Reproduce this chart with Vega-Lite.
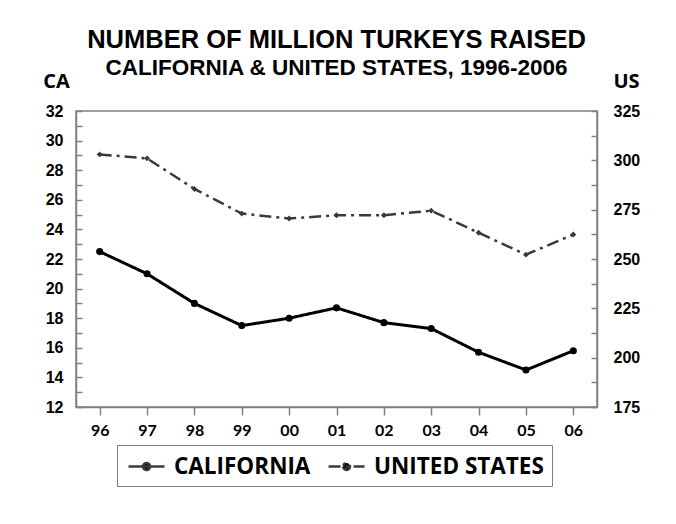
{
  "$schema": "https://vega.github.io/schema/vega-lite/v6.json",
  "autosize": {"type": "none"},
  "width": 521,
  "height": 296,
  "padding": {"left": 76, "top": 111, "right": 79, "bottom": 117},
  "background": "white",
  "title": {
    "text": "NUMBER OF MILLION TURKEYS RAISED",
    "subtitle": "CALIFORNIA & UNITED STATES, 1996-2006",
    "anchor": "middle",
    "frame": "group",
    "font": "Liberation Sans",
    "fontSize": 25.5,
    "fontWeight": "bold",
    "color": "black",
    "subtitleFont": "Liberation Sans",
    "subtitleFontSize": 22.5,
    "subtitleFontWeight": "bold",
    "subtitleColor": "black",
    "subtitlePadding": 3,
    "offset": -8
  },
  "datasets": {
    "ca": [
      {"year": "96", "series": "CALIFORNIA", "value": 22.5},
      {"year": "97", "series": "CALIFORNIA", "value": 21.0},
      {"year": "98", "series": "CALIFORNIA", "value": 19.0},
      {"year": "99", "series": "CALIFORNIA", "value": 17.5},
      {"year": "00", "series": "CALIFORNIA", "value": 18.0},
      {"year": "01", "series": "CALIFORNIA", "value": 18.7},
      {"year": "02", "series": "CALIFORNIA", "value": 17.7},
      {"year": "03", "series": "CALIFORNIA", "value": 17.3},
      {"year": "04", "series": "CALIFORNIA", "value": 15.7},
      {"year": "05", "series": "CALIFORNIA", "value": 14.5},
      {"year": "06", "series": "CALIFORNIA", "value": 15.8}
    ],
    "us": [
      {"year": "96", "series": "UNITED STATES", "value": 303},
      {"year": "97", "series": "UNITED STATES", "value": 301},
      {"year": "98", "series": "UNITED STATES", "value": 285.5},
      {"year": "99", "series": "UNITED STATES", "value": 273},
      {"year": "00", "series": "UNITED STATES", "value": 270.5},
      {"year": "01", "series": "UNITED STATES", "value": 272.2},
      {"year": "02", "series": "UNITED STATES", "value": 272.2},
      {"year": "03", "series": "UNITED STATES", "value": 274.5},
      {"year": "04", "series": "UNITED STATES", "value": 263.3},
      {"year": "05", "series": "UNITED STATES", "value": 252.2},
      {"year": "06", "series": "UNITED STATES", "value": 262.4}
    ]
  },
  "encoding": {
    "x": {
      "field": "year",
      "type": "ordinal",
      "sort": null,
      "scale": {"type": "point", "padding": 0.5},
      "axis": {
        "title": null,
        "labelAngle": 0,
        "labelFont": "Lato",
        "labelFontSize": 16,
        "labelFontWeight": "bold",
        "labelColor": "black",
        "labelPadding": 7,
        "tickSize": 8,
        "tickColor": "#808080",
        "domainColor": "#808080",
        "grid": false
      }
    }
  },
  "layer": [
    {
      "data": {"name": "ca"},
      "encoding": {
        "y": {
          "field": "value",
          "type": "quantitative",
          "scale": {"domain": [12, 32], "nice": false, "zero": false},
          "axis": {
            "orient": "left",
            "title": "CA",
            "titleAngle": 0,
            "titleAlign": "center",
            "titleBaseline": "middle",
            "titleX": -20,
            "titleY": -30,
            "titleFont": "Open Sans",
            "titleFontSize": 20,
            "titleFontWeight": "bold",
            "titleColor": "black",
            "values": [12, 13, 14, 15, 16, 17, 18, 19, 20, 21, 22, 23, 24, 25, 26, 27, 28, 29, 30, 31, 32],
            "labelExpr": "datum.value % 2 == 0 ? datum.label : ''",
            "labelFont": "Liberation Sans",
            "labelFontSize": 16,
            "labelFontWeight": "bold",
            "labelColor": "black",
            "labelPadding": 19,
            "tickSize": -6,
            "tickColor": "#808080",
            "domainColor": "#808080",
            "grid": false
          }
        }
      },
      "layer": [
        {
          "mark": {"type": "line", "color": "black", "strokeWidth": 3},
          "encoding": {
            "strokeDash": {
              "field": "series",
              "type": "nominal",
              "scale": {"domain": ["CALIFORNIA", "UNITED STATES"], "range": [[1, 0], [12, 5, 3, 5]]},
              "legend": {
                "title": null,
                "orient": "none",
                "legendX": 41,
                "legendY": 334,
                "direction": "horizontal",
                "strokeColor": "#808080",
                "padding": 8,
                "labelFont": "Open Sans",
                "labelFontSize": 22.5,
                "labelFontWeight": "bold",
                "labelColor": "black",
                "labelLimit": 400,
                "labelOffset": 22,
                "columnPadding": 12,
                "symbolType": "M-0.83,0H2.17M0.38,0A0.29,0.29 0 1,0 0.96,0A0.29,0.29 0 1,0 0.38,0Z",
                "symbolSize": 576,
                "symbolStrokeWidth": 2.5,
                "symbolStrokeColor": "black",
                "symbolFillColor": "black"
              }
            }
          }
        },
        {
          "mark": {"type": "point", "filled": true, "shape": "circle", "size": 50, "color": "black", "opacity": 1}
        }
      ]
    },
    {
      "data": {"name": "us"},
      "encoding": {
        "y": {
          "field": "value",
          "type": "quantitative",
          "scale": {"domain": [175, 325], "nice": false, "zero": false},
          "axis": {
            "orient": "right",
            "title": "US",
            "titleAngle": 0,
            "titleAlign": "center",
            "titleBaseline": "middle",
            "titleX": 29,
            "titleY": -30,
            "titleFont": "Open Sans",
            "titleFontSize": 20,
            "titleFontWeight": "bold",
            "titleColor": "black",
            "values": [175, 187.5, 200, 212.5, 225, 237.5, 250, 262.5, 275, 287.5, 300, 312.5, 325],
            "labelExpr": "datum.value % 25 == 0 ? datum.label : ''",
            "labelFont": "Liberation Sans",
            "labelFontSize": 16,
            "labelFontWeight": "bold",
            "labelColor": "black",
            "labelPadding": 22,
            "tickSize": -6,
            "tickColor": "#808080",
            "domainColor": "#808080",
            "grid": false
          }
        }
      },
      "layer": [
        {
          "mark": {"type": "line", "color": "#3a3a3a", "strokeWidth": 2.5},
          "encoding": {
            "strokeDash": {"field": "series", "type": "nominal"}
          }
        },
        {
          "mark": {"type": "point", "filled": true, "shape": "diamond", "size": 35, "color": "#3a3a3a", "opacity": 1}
        }
      ]
    }
  ],
  "resolve": {"scale": {"y": "independent"}},
  "config": {
    "view": {"stroke": "#808080", "strokeWidth": 1.5},
    "axis": {"domainWidth": 1.5, "tickWidth": 1.5}
  }
}
